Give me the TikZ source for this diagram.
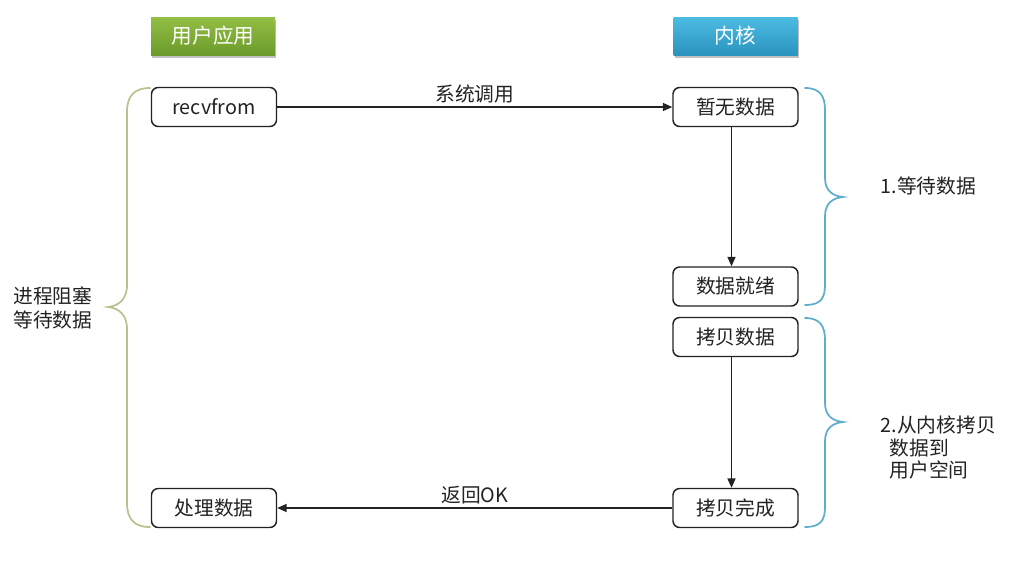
\documentclass[tikz,border=0pt]{standalone}
\usepackage{fontspec}
\setmainfont{Noto Sans CJK SC}
\usetikzlibrary{shadows,arrows.meta}
\definecolor{greenTop}{HTML}{93BF45}
\definecolor{greenBot}{HTML}{6B9A2A}
\definecolor{blueTop}{HTML}{4CBCE2}
\definecolor{blueBot}{HTML}{2A93BE}
\definecolor{braceGreen}{HTML}{B9C28E}
\definecolor{braceBlue}{HTML}{5DAECB}
\definecolor{ink}{HTML}{222222}
\begin{document}
\begin{tikzpicture}[x=0.75pt,y=-0.75pt,
  header/.style={minimum width=124*0.75pt, minimum height=38*0.75pt, inner sep=0pt,
    text=white, font=\fontsize{15.5}{18}\selectfont,
    drop shadow={shadow xshift=1pt, shadow yshift=-2pt, opacity=0.25, fill=black}},
  stepbox/.style={draw=ink, line width=1.1pt, rounded corners=5pt, fill=white,
    minimum width=125*0.75pt, minimum height=39*0.75pt, inner sep=0pt,
    text=ink, font=\fontsize{14.8}{17}\selectfont},
  flow/.style={draw=ink, line width=1pt, -{Triangle[length=7pt,width=6pt]}},
  lbl/.style={text=ink, font=\fontsize{14.8}{17}\selectfont},
  bracepath/.style={line width=1.3pt, line cap=round}]
\useasboundingbox (0,0) rectangle (1035,569);

% column headers
\node[header, top color=greenTop, bottom color=greenBot] (user) at (213,36) {用户应用};
\node[header, top color=blueTop, bottom color=blueBot] (kernel) at (735.5,36) {内核};

% process steps
\node[stepbox] (recv) at (214,107) {recvfrom};
\node[stepbox] (nodata) at (735.5,107) {暂无数据};
\node[stepbox] (ready) at (735.5,286.5) {数据就绪};
\node[stepbox] (copy) at (735.5,337) {拷贝数据};
\node[stepbox] (done) at (735.5,508) {拷贝完成};
\node[stepbox] (handle) at (214,508) {处理数据};

% connectors
\draw[flow] (recv) -- node[lbl, above=-1pt] {系统调用} (nodata);
\draw[flow] ([xshift=-3pt]nodata.south) -- ([xshift=-3pt]ready.north);
\draw[flow] ([xshift=-3pt]copy.south) -- ([xshift=-3pt]done.north);
\draw[flow] (done) -- node[lbl, above=-1pt] {返回OK} (handle);

% left brace: blocked process
\draw[bracepath, braceGreen]
  (150,88) .. controls (134,88) and (127,96) .. (127,112)
  -- (127,285) .. controls (127,300) and (118,306) .. (108,307)
  .. controls (118,308) and (127,314) .. (127,329)
  -- (127,503) .. controls (127,519) and (134,527) .. (150,527);
\node[lbl, align=left, anchor=east] (blocked) at (97,308) {进程阻塞\\[1pt]等待数据};

% right braces: kernel phases
\draw[bracepath, braceBlue]
  (805,88) .. controls (820,88) and (825,96) .. (825,110)
  -- (825,178) .. controls (825,191) and (833,196) .. (843,197)
  .. controls (833,198) and (825,203) .. (825,216)
  -- (825,285) .. controls (825,299) and (820,305) .. (805,305);
\draw[bracepath, braceBlue]
  (805,318) .. controls (820,318) and (825,326) .. (825,340)
  -- (825,403) .. controls (825,416) and (833,421) .. (843,422)
  .. controls (833,423) and (825,428) .. (825,441)
  -- (825,507) .. controls (825,521) and (820,527) .. (805,527);
\node[lbl, anchor=west] (phase1) at (876,186) {1.等待数据};
\node[lbl, anchor=north west, align=left] (phase2) at (876,411) {2.从内核拷贝\\[0pt]\hspace*{0.45em}数据到\\[0pt]\hspace*{0.45em}用户空间};
\end{tikzpicture}
\end{document}
